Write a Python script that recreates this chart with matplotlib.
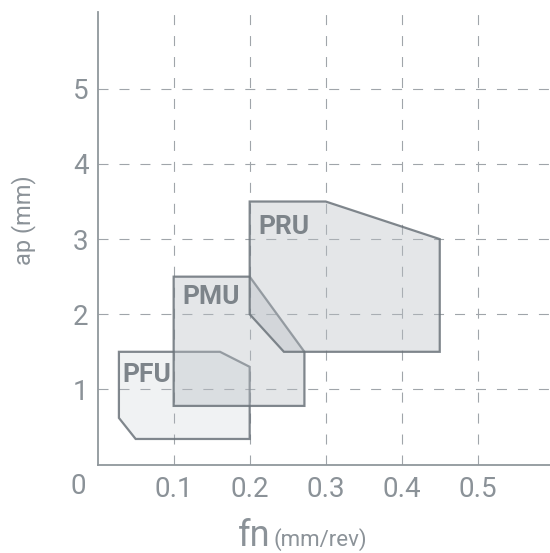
#!/usr/bin/env python3
# -*- coding: utf-8 -*-
"""Zonas de aplicacao (fn x ap) dos quebra-cavacos PFU / PMU / PRU."""
import matplotlib
matplotlib.use('Agg')
import matplotlib.pyplot as plt
from matplotlib.patches import Polygon

# ── dados ──────────────────────────────────────────────────────────────────
pfu_fn = [0.028, 0.161, 0.2, 0.2, 0.05, 0.028]
pfu_ap = [1.5, 1.5, 1.3, 0.34, 0.34, 0.62]

pmu_fn = [0.1, 0.2, 0.272, 0.272, 0.1]
pmu_ap = [2.5, 2.5, 1.5, 0.78, 0.78]

pru_fn = [0.2, 0.3, 0.45, 0.45, 0.245, 0.2]
pru_ap = [3.5, 3.5, 3.0, 1.5, 1.5, 2.0]

names = ["PFU", "PMU", "PRU"]
x_ticks = [0.1, 0.2, 0.3, 0.4, 0.5]
y_ticks = [1, 2, 3, 4, 5]

TXT = "#8b9298"
GRID = "#a0a5aa"

plt.rcParams['font.family'] = ["Roboto", "DejaVu Sans"]
plt.rcParams['lines.scale_dashes'] = False

fig = plt.figure(figsize=(5.5, 5.53), dpi=100)
ax = fig.add_axes([0.1775, 0.16, 0.8225, 0.818])
ax.set_xlim(0, 0.595)
ax.set_ylim(0, 6.02)

ax.set_xticks(x_ticks)
ax.set_yticks(y_ticks)
ax.set_xticklabels([f"{v:g}" for v in x_ticks])
ax.set_yticklabels([f"{v:g}" for v in y_ticks])
ax.tick_params(length=0, labelsize=20, colors=TXT)
ax.tick_params(axis='y', pad=6.5)
ax.tick_params(axis='x', pad=8)
ax.grid(True, color=GRID, lw=0.8, linestyle=(0, (7.2, 7.9)))
ax.set_axisbelow(True)

for s in ("top", "right"):
    ax.spines[s].set_visible(False)
for s in ("left", "bottom"):
    ax.spines[s].set_color("#90979c")
    ax.spines[s].set_linewidth(1.3)

# origem compartilhada
ax.text(-0.026, -0.294, "0", color=TXT, fontsize=20,
        ha='center', va='center', clip_on=False)

# ── poligonos (translucidos, para as sobreposicoes escurecerem) ───────────
polys = [(pfu_fn, pfu_ap, 0.2), (pmu_fn, pmu_ap, 0.38), (pru_fn, pru_ap, 0.38)]
for i, (fx, fy, a) in enumerate(polys):
    ax.add_patch(Polygon(list(zip(fx, fy)), closed=True,
                         facecolor=(0.72, 0.745, 0.77, a),
                         edgecolor=(0.42, 0.45, 0.48, 0.85), lw=1.6, zorder=3 + i))

label_pos = [(0.033, 1.19), (0.112, 2.23), (0.212, 3.16)]
for name, (lx, ly) in zip(names, label_pos):
    ax.text(lx, ly, name, fontsize=19, fontweight='bold', color="#7d848a",
            ha='left', va='center', zorder=10)

# ── rotulos dos eixos ──────────────────────────────────────────────────────
fig.text(0.042, 0.602, "ap (mm)", rotation=90, fontsize=17, color=TXT,
         ha='center', va='center')
fig.text(0.432, 0.012, "fn", fontsize=26, color=TXT,
         ha='left', va='baseline')
fig.text(0.497, 0.012, "(mm/rev)", fontsize=16, color=TXT,
         ha='left', va='baseline')

fig.savefig("out.png", dpi=100)
